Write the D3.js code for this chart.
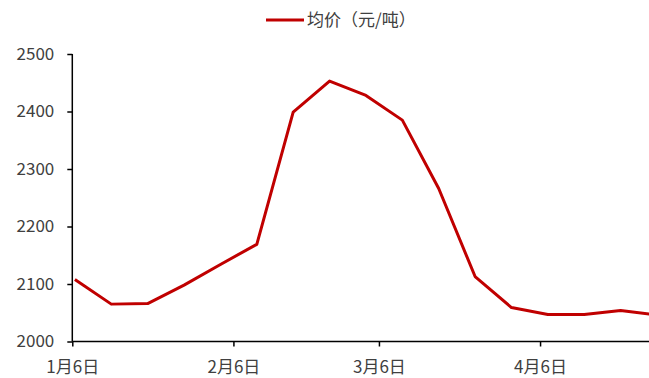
<!DOCTYPE html>
<html>
<head>
<meta charset="utf-8">
<script src="https://cdn.jsdelivr.net/npm/d3@7"></script>
<style>
  html, body { margin: 0; padding: 0; background: #fff; }
  svg { display: block; }
  text { font-family: "Noto Sans CJK SC", "Noto Sans", sans-serif; }
</style>
</head>
<body>
<svg id="chart" width="649" height="378"></svg>
<script>
// Weekly average price, yuan per tonne
const dates = ["2023-01-06", "2023-01-13", "2023-01-20", "2023-01-27", "2023-02-03",
               "2023-02-10", "2023-02-17", "2023-02-24", "2023-03-03", "2023-03-10",
               "2023-03-17", "2023-03-24", "2023-03-31", "2023-04-07", "2023-04-14",
               "2023-04-21", "2023-04-28"];
const avgPrice = [2108, 2065, 2066, 2098, 2134, 2169, 2399, 2453, 2428, 2385,
                  2266, 2113, 2059, 2047, 2047, 2054, 2046];
const seriesName = "均价（元/吨）";
const xTickDates = ["2023-01-06", "2023-02-06", "2023-03-06", "2023-04-06"];
const yTicks = [2000, 2100, 2200, 2300, 2400, 2500];
const xDomain = ["2023-01-06", "2023-04-27"];

const parse = d3.timeParse("%Y-%m-%d");
const data = dates.map((d, i) => ({ date: parse(d), value: avgPrice[i] }));

const svg = d3.select("#chart");
const plotLeft = 72.3, plotRight = 649.2, plotTop = 54, plotBottom = 341.5;
const red = "#C00000";
const textColor = "#404040";
const fontSize = "17px";

const x = d3.scaleTime().domain(xDomain.map(parse)).range([plotLeft, plotRight]);
const y = d3.scaleLinear().domain([2000, 2500]).range([plotBottom, plotTop]);

// points sit in the middle of their day slot
const px = d => x(d3.timeHour.offset(d.date, 12));

svg.append("defs").append("clipPath").attr("id", "plot")
  .append("rect").attr("x", plotLeft).attr("y", plotTop - 10)
  .attr("width", plotRight - plotLeft).attr("height", plotBottom - plotTop + 20);

// Y axis
const yAxis = svg.append("g")
  .attr("transform", `translate(${plotLeft},0)`)
  .call(d3.axisLeft(y).tickValues(yTicks).tickSize(5).tickPadding(13).tickFormat(d3.format("d")));
yAxis.select(".domain").attr("stroke", "#000").attr("stroke-width", 1.5)
  .attr("d", `M0,${plotTop}V${plotBottom}`);
yAxis.selectAll(".tick line").attr("stroke", "#000").attr("stroke-width", 1.5);
yAxis.selectAll(".tick text").attr("fill", textColor).style("font-size", fontSize);

// X axis
const xAxis = svg.append("g")
  .attr("transform", `translate(0,${plotBottom})`)
  .call(d3.axisBottom(x).tickValues(xTickDates.map(parse)).tickSize(5).tickPadding(14)
    .tickFormat(d => `${d.getMonth() + 1}月${d.getDate()}日`));
xAxis.select(".domain").attr("stroke", "#000").attr("stroke-width", 1.5)
  .attr("d", `M${plotLeft},0H${plotRight}`);
xAxis.selectAll(".tick line").attr("stroke", "#000").attr("stroke-width", 1.5);
xAxis.selectAll(".tick text").attr("fill", textColor).style("font-size", fontSize);

// Price line
svg.append("path")
  .datum(data)
  .attr("clip-path", "url(#plot)")
  .attr("fill", "none")
  .attr("stroke", red)
  .attr("stroke-width", 3)
  .attr("stroke-linejoin", "round")
  .attr("d", d3.line().x(px).y(d => y(d.value)));

// Legend
const legend = svg.append("g").attr("transform", "translate(266,20)");
legend.append("line").attr("x1", 0).attr("x2", 38).attr("y1", 0).attr("y2", 0)
  .attr("stroke", red).attr("stroke-width", 3);
legend.append("text").attr("x", 41).attr("y", 0).attr("dy", "0.35em")
  .attr("fill", textColor).style("font-size", fontSize).text(seriesName);
</script>
</body>
</html>
